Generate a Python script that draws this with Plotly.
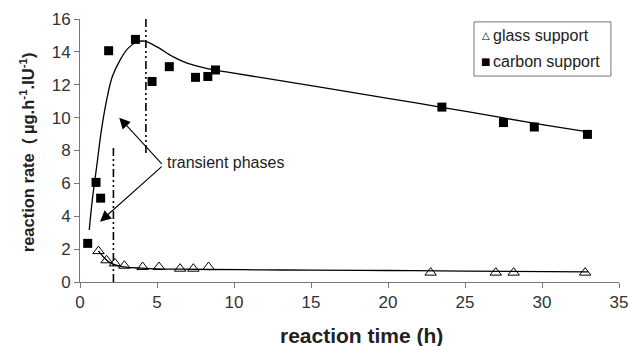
import plotly.graph_objects as go

# measured data
carbon_x = [0.5, 1.04, 1.34, 1.86, 3.6, 4.68, 5.8, 7.5, 8.3, 8.8, 23.5, 27.5, 29.5, 32.95]
carbon_y = [2.35, 6.06, 5.1, 14.07, 14.76, 12.2, 13.1, 12.45, 12.5, 12.9, 10.64, 9.7, 9.43, 8.98]
glass_x = [1.2, 1.73, 2.27, 2.88, 4.07, 5.13, 6.5, 7.36, 8.35, 22.77, 27.0, 28.16, 32.8]
glass_y = [1.88, 1.32, 1.13, 0.99, 0.91, 0.91, 0.81, 0.81, 0.91, 0.57, 0.57, 0.57, 0.57]

# fitted curves
carbon_fit_x = [0.6, 0.8, 1.08, 1.4, 1.73, 2.1, 2.6, 3.1, 3.7, 4.2, 5.0, 6.06, 7.0, 8.2, 9.5, 12.0, 15.6, 20.0, 23.5, 27.5, 30.0, 33.2]
carbon_fit_y = [3.16, 5.0, 7.0, 9.3, 11.07, 12.5, 13.5, 14.2, 14.6, 14.65, 14.3, 13.7, 13.3, 13.0, 12.78, 12.4, 11.85, 11.17, 10.63, 9.98, 9.58, 9.1]
glass_fit_x = [1.2, 1.6, 2.0, 2.5, 3.0, 4.0, 5.0, 6.5, 8.5, 12.0, 15.0, 20.0, 25.0, 33.0]
glass_fit_y = [1.9, 1.45, 1.15, 0.98, 0.9, 0.84, 0.8, 0.78, 0.76, 0.74, 0.72, 0.7, 0.66, 0.62]

x_ticks = [0, 5, 10, 15, 20, 25, 30, 35]
y_ticks = [0, 2, 4, 6, 8, 10, 12, 14, 16]

# phase boundaries
vline1_x, vline1_y = [4.28, 4.28], [7.85, 16.2]
vline2_x, vline2_y = [2.17, 2.17], [0, 8.2]

FONT = "Liberation Sans, Arial, sans-serif"
DASH = "8px,3px,2px,3px,2px,3px"

fig = go.Figure()
fig.add_trace(go.Scatter(x=carbon_fit_x, y=carbon_fit_y, mode="lines", line=dict(color="black", width=1.3, shape="spline"), showlegend=False, hoverinfo="skip"))
fig.add_trace(go.Scatter(x=glass_fit_x, y=glass_fit_y, mode="lines", line=dict(color="black", width=1.3, shape="spline"), showlegend=False, hoverinfo="skip"))
fig.add_trace(go.Scatter(x=vline1_x, y=vline1_y, mode="lines", line=dict(color="black", width=1.6, dash=DASH), showlegend=False, hoverinfo="skip", cliponaxis=False))
fig.add_trace(go.Scatter(x=vline2_x, y=vline2_y, mode="lines", line=dict(color="black", width=1.6, dash=DASH), showlegend=False, hoverinfo="skip"))
fig.add_trace(go.Scatter(x=glass_x, y=glass_y, mode="markers", name="glass support", showlegend=False,
                         marker=dict(symbol="triangle-up-open", size=10, color="black", line=dict(width=1))))
fig.add_trace(go.Scatter(x=carbon_x, y=carbon_y, mode="markers", name="carbon support", showlegend=False,
                         marker=dict(symbol="square", size=9, color="black")))

# arrows
for (ax_, ay_) in [(2.55, 10.0), (1.3, 3.67)]:
    fig.add_annotation(x=ax_, y=ay_, ax=5.4, ay=7.1, xref="x", yref="y", axref="x", ayref="y",
                       text="", showarrow=True, arrowhead=2, arrowsize=2.0, arrowwidth=1.1, arrowcolor="black")
fig.add_annotation(x=5.5, y=7.28, xref="x", yref="y", text="transient phases", showarrow=False,
                   xanchor="left", yanchor="middle", font=dict(family=FONT, size=16, color="#222"))

# axis titles
fig.add_annotation(x=0.523, y=-0.205, xref="paper", yref="paper", text="<b>reaction time (h)</b>", showarrow=False,
                   xanchor="center", yanchor="middle", font=dict(family=FONT, size=21, color="#222"))
fig.add_annotation(x=-0.098, y=0.494, xref="paper", yref="paper",
                   text="<b>reaction rate  ( µg.h<sup>-1</sup>.IU<sup>-1</sup>)</b>", showarrow=False, textangle=-90,
                   xanchor="center", yanchor="middle", font=dict(family=FONT, size=16.5, color="#222"))

# legend box
fig.add_shape(type="rect", xref="paper", yref="paper", x0=0.731, x1=0.985, y0=0.783, y1=0.989,
              line=dict(color="#777", width=1), fillcolor="white", layer="above")
fig.add_annotation(x=0.753, y=0.939, xref="paper", yref="paper", text="△", showarrow=False,
                   xanchor="center", yanchor="middle", font=dict(family="DejaVu Sans", size=10, color="black"))
fig.add_annotation(x=0.753, y=0.838, xref="paper", yref="paper", text="■", showarrow=False,
                   xanchor="center", yanchor="middle", font=dict(family="DejaVu Sans", size=10, color="black"))
fig.add_annotation(x=0.7625, y=0.939, xref="paper", yref="paper", text="glass support", showarrow=False,
                   xanchor="left", yanchor="middle", font=dict(family=FONT, size=16, color="#222"))
fig.add_annotation(x=0.7625, y=0.838, xref="paper", yref="paper", text="carbon support", showarrow=False,
                   xanchor="left", yanchor="middle", font=dict(family=FONT, size=16, color="#222"))

axis_common = dict(showline=True, linecolor="#777", linewidth=1, ticks="outside", tickcolor="#777", ticklen=5,
                   showgrid=False, zeroline=False, automargin=False,
                   tickfont=dict(family=FONT, size=17, color="#333"))
fig.update_xaxes(range=[0, 35], tickvals=x_ticks, **axis_common)
fig.update_yaxes(range=[0, 16], tickvals=y_ticks, **axis_common)

fig.update_layout(width=629, height=346, margin=dict(l=80, r=10, t=19, b=64),
                  plot_bgcolor="white", paper_bgcolor="white", showlegend=False)
fig.write_html("out.html", config={"displayModeBar": False},
               post_script="document.body.style.margin='0';document.body.style.overflow='hidden';")
